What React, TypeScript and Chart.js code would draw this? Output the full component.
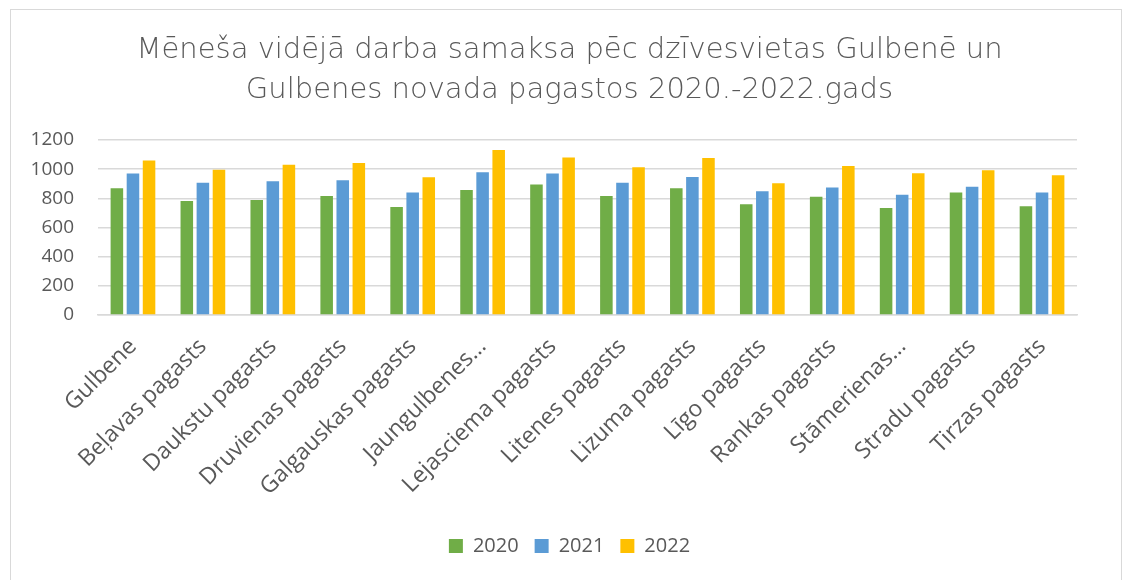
import React, { useEffect, useRef } from "react";
import { Chart, registerables } from "chart.js";

Chart.register(...registerables);

const categories = [
  "Gulbene",
  "Beļavas pagasts",
  "Daukstu pagasts",
  "Druvienas pagasts",
  "Galgauskas pagasts",
  "Jaungulbenes…",
  "Lejasciema pagasts",
  "Litenes pagasts",
  "Lizuma pagasts",
  "Līgo pagasts",
  "Rankas pagasts",
  "Stāmerienas…",
  "Stradu pagasts",
  "Tirzas pagasts",
];

const values2020 = [870, 782, 789, 816, 741, 857, 895, 816, 870, 759, 811, 734, 841, 746];
const values2021 = [970, 907, 918, 925, 841, 979, 970, 907, 947, 848, 875, 825, 879, 841];
const values2022 = [1059, 997, 1031, 1043, 945, 1131, 1081, 1013, 1077, 904, 1022, 972, 993, 958];

const seriesLabels = ["2020", "2021", "2022"];
const seriesColors = ["#70AD47", "#5B9BD5", "#FFC000"];

const yTicks = [0, 200, 400, 600, 800, 1000, 1200];

const titleLines = [
  "Mēneša vidējā darba samaksa pēc dzīvesvietas Gulbenē un",
  "Gulbenes novada pagastos 2020.-2022.gads",
];

const shiftBoxes = {
  id: "shiftBoxes",
  afterLayout(chart: any) {
    const dx = 21;
    for (const box of [chart.titleBlock, chart.legend]) {
      if (box) {
        box.left += dx;
        box.right += dx;
      }
    }
  },
};

export default function App() {
  const ref = useRef<HTMLCanvasElement | null>(null);

  useEffect(() => {
    if (!ref.current) return;
    const allValues = [values2020, values2021, values2022];
    const chart = new Chart(ref.current, {
      type: "bar",
      data: {
        labels: categories,
        datasets: allValues.map((vals, i) => ({
          label: seriesLabels[i],
          data: vals,
          backgroundColor: seriesColors[i],
          borderWidth: 0,
          categoryPercentage: 0.69,
          barPercentage: 0.78,
        })),
      },
      plugins: [shiftBoxes],
      options: {
        animation: false,
        responsive: false,
        maintainAspectRatio: false,
        layout: { padding: { left: 20, right: 47, top: 30, bottom: 14 } },
        plugins: {
          title: {
            display: true,
            text: titleLines,
            color: "#595959",
            font: { family: "'DejaVu Sans'", size: 29, weight: "200", lineHeight: 1.38 },
            padding: { top: 0, bottom: 30 },
          },
          legend: {
            position: "bottom",
            labels: {
              boxWidth: 14,
              boxHeight: 14,
              color: "#595959",
              font: { family: "'Open Sans'", size: 20 },
              padding: 16,
            },
          },
          tooltip: { enabled: false },
        },
        scales: {
          x: {
            grid: { display: false },
            border: { display: true, color: "#d9d9d9", width: 1.5 },
            ticks: {
              autoSkip: false,
              minRotation: 45,
              maxRotation: 45,
              color: "#595959",
              font: { family: "'Open Sans'", size: 23 },
              padding: 10,
            },
            afterFit: (scale: any) => {
              scale.height = 205;
            },
          },
          y: {
            min: 0,
            max: 1200,
            afterBuildTicks: (scale: any) => {
              scale.ticks = yTicks.map((v) => ({ value: v }));
            },
            grid: { color: "#d9d9d9", lineWidth: 1.5, drawTicks: false },
            border: { display: false },
            ticks: {
              color: "#595959",
              font: { family: "'Open Sans'", size: 19 },
              padding: 24,
              callback: (v: any) => String(v),
            },
            afterFit: (scale: any) => {
              scale.width = 78;
            },
          },
        },
      },
    });
    return () => chart.destroy();
  }, []);

  return (
    <div style={{ position: "fixed", left: 0, top: 0, width: 1124, height: 580, background: "#fff" }}>
      <div
        style={{
          position: "absolute",
          left: 10,
          top: 9,
          width: 1112,
          height: 600,
          border: "1px solid #d9d9d9",
          boxSizing: "border-box",
        }}
      />
      <canvas ref={ref} width={1124} height={580} style={{ position: "absolute", left: 0, top: 0 }} />
    </div>
  );
}
